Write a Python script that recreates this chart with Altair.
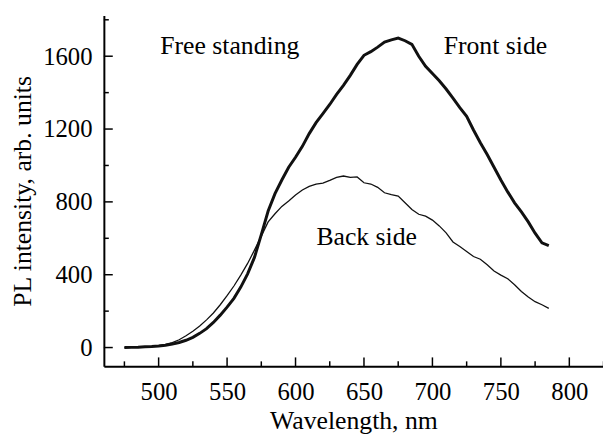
import altair as alt
import pandas as pd

# ---- data ----
wavelength = [475, 480, 485, 490, 495, 500, 505, 510, 515, 520, 525, 530, 535, 540, 545,
              550, 555, 560, 565, 570, 575, 580, 585, 590, 595, 600, 605, 610, 615, 620,
              625, 630, 635, 640, 645, 650, 655, 660, 665, 670, 675, 680, 685, 690, 695,
              700, 705, 710, 715, 720, 725, 730, 735, 740, 745, 750, 755, 760, 765, 770,
              775, 780, 785]
front_side = [0, 1, 2, 4, 6, 9, 13, 19, 28, 40, 56, 78, 104, 138, 178,
              222, 270, 332, 405, 495, 620, 750, 845, 920, 990, 1045, 1105, 1175, 1235, 1285,
              1335, 1390, 1440, 1495, 1555, 1605, 1625, 1650, 1678, 1690, 1700, 1685, 1665, 1600, 1545,
              1505, 1465, 1420, 1370, 1318, 1270, 1195, 1125, 1060, 990, 920, 855, 795, 745, 690,
              628, 575, 560]
back_side = [0, 1, 2, 4, 7, 11, 17, 27, 43, 65, 90, 118, 152, 190, 235,
             285, 338, 398, 462, 535, 612, 690, 735, 775, 805, 838, 865, 885, 898, 903,
             918, 935, 942, 935, 937, 905, 898, 880, 850, 840, 832, 795, 758, 732, 722,
             700, 668, 630, 580, 555, 528, 500, 485, 455, 420, 398, 378, 345, 308, 278,
             252, 235, 215]

series_names = ["Front side", "Back side"]
series_widths = [3.0, 1.3]

x_major_ticks = [500, 550, 600, 650, 700, 750, 800]
x_minor_ticks = [475, 525, 575, 625, 675, 725, 775, 825]
y_major_ticks = [0, 400, 800, 1200, 1600]
y_minor_ticks = [200, 600, 1000, 1400, 1800]

note_text = ["Free standing", "Front side", "Back side"]
note_x = [552, 746, 652]
note_y = [1653, 1653, 605]

X_DOMAIN = [460, 824.6]
Y_DOMAIN = [-103, 1824]
W, H = 505, 355
FONT = "Liberation Serif"
XT = "Wavelength, nm"
YT = "PL intensity, arb. units"

rows = []
for name, vals in zip(series_names, [front_side, back_side]):
    for wl, v in zip(wavelength, vals):
        rows.append({"wl": wl, "val": v, "series": name})
df = pd.DataFrame(rows)

xscale = alt.Scale(domain=X_DOMAIN, nice=False, zero=False)
yscale = alt.Scale(domain=Y_DOMAIN, nice=False, zero=False)

xaxis = alt.Axis(values=x_major_ticks, format="d", ticks=False, grid=False, labelPadding=14,
                 titlePadding=3, domainWidth=2, domainColor="black")
yaxis = alt.Axis(values=y_major_ticks, format="d", ticks=False, grid=False, labelPadding=12,
                 titlePadding=7, domainWidth=2, domainColor="black")

lines = alt.Chart(df).mark_line(color="#111111", clip=True).encode(
    x=alt.X("wl:Q", scale=xscale, axis=xaxis, title=XT),
    y=alt.Y("val:Q", scale=yscale, axis=yaxis, title=YT),
    detail="series:N",
    strokeWidth=alt.StrokeWidth("series:N", scale=alt.Scale(domain=series_names, range=series_widths), legend=None),
)

def xticks(vals, length):
    d = pd.DataFrame({"wl": vals})
    return alt.Chart(d).mark_rule(color="black", strokeWidth=1.5).encode(
        x=alt.X("wl:Q", scale=xscale, axis=xaxis, title=XT),
        y=alt.value(H), y2=alt.value(H - length))

def yticks(vals, length):
    d = pd.DataFrame({"val": vals})
    return alt.Chart(d).mark_rule(color="black", strokeWidth=1.5).encode(
        y=alt.Y("val:Q", scale=yscale, axis=yaxis, title=YT),
        x=alt.value(0), x2=alt.value(length))

notes_df = pd.DataFrame({"wl": note_x, "val": note_y, "text": note_text})
notes = alt.Chart(notes_df).mark_text(font=FONT, fontSize=26, color="black",
                                      align="center", baseline="middle").encode(
    x=alt.X("wl:Q", scale=xscale, axis=xaxis, title=XT),
    y=alt.Y("val:Q", scale=yscale, axis=yaxis, title=YT),
    text="text:N")

chart = alt.layer(
    lines, xticks(x_major_ticks, 9), xticks(x_minor_ticks, 5),
    yticks(y_major_ticks, 9), yticks(y_minor_ticks, 5), notes
).properties(
    width=W, height=H,
    autosize=alt.AutoSizeParams(type="none"),
    padding={"left": 97, "top": 5, "right": 0, "bottom": 68},
    background="white",
).configure_view(stroke=None).configure_axis(
    labelFont=FONT, labelFontSize=25, labelColor="black",
    titleFont=FONT, titleFontSize=26, titleFontWeight="normal", titleColor="black",
)

chart.save("out.html", embed_options={"renderer": "svg", "actions": False})
